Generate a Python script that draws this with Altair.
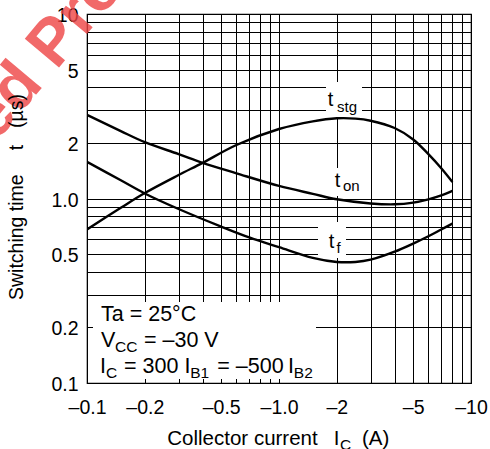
import altair as alt
import pandas as pd

# ---------------- data ----------------
IC_STG = [0.1, 0.15, 0.2, 0.3, 0.4, 0.6, 1.0, 1.5, 2.0, 2.5, 3.0, 4.0, 5.0, 6.0, 7.0, 8.0]
T_STG = [0.68, 0.89, 1.07, 1.34, 1.56, 1.95, 2.38, 2.62, 2.72, 2.71, 2.64, 2.41, 2.09, 1.74, 1.46, 1.23]

IC_ON = [0.1, 0.15, 0.2, 0.3, 0.4, 0.6, 1.0, 1.5, 2.0, 3.0, 4.0, 5.0, 6.0, 7.0, 8.0]
T_ON = [2.84, 2.32, 2.02, 1.74, 1.56, 1.37, 1.17, 1.06, 0.99, 0.94, 0.93, 0.95, 0.99, 1.04, 1.10]

IC_F = [0.1, 0.15, 0.2, 0.3, 0.5, 0.7, 1.0, 1.5, 2.0, 2.5, 3.0, 4.0, 5.0, 6.0, 7.0, 8.0]
T_F = [1.58, 1.255, 1.065, 0.877, 0.704, 0.615, 0.545, 0.477, 0.453, 0.453, 0.466, 0.515, 0.57, 0.624, 0.679, 0.731]

GRID = [0.1, 0.2, 0.3, 0.4, 0.5, 0.6, 0.7, 0.8, 0.9,
        1, 2, 3, 4, 5, 6, 7, 8, 9, 10]

X_LABEL_VALUES = [0.1, 0.2, 0.5, 1, 2, 5, 10]
X_LABEL_TEXT = ["–0.1", "–0.2", "–0.5", "–1.0", "–2", "–5", "–10"]
Y_LABEL_VALUES = [0.1, 0.2, 0.5, 1, 2, 5, 10]
Y_LABEL_TEXT = ["0.1", "0.2", "0.5", "1.0", "2", "5", "10"]

rows = []
for name, xs, ys in [("t_stg", IC_STG, T_STG), ("t_on", IC_ON, T_ON), ("t_f", IC_F, T_F)]:
    for a, b in zip(xs, ys):
        rows.append({"series": name, "ic": a, "t": b})
curves = pd.DataFrame(rows)


def label_expr(values, texts):
    parts = [f"datum.value == {v} ? '{t}'" for v, t in zip(values, texts)]
    return " : ".join(parts) + " : ''"


FONT = "Liberation Sans"

x_enc = alt.X(
    "ic:Q",
    scale=alt.Scale(type="log", domain=[0.1, 10], nice=False),
    axis=alt.Axis(values=GRID, labelExpr=label_expr(X_LABEL_VALUES, X_LABEL_TEXT),
                  grid=True, gridColor="black", gridWidth=1, gridOpacity=1,
                  ticks=False, domain=False, title=None, labelOverlap=False,
                  labelFlush=False, labelFont=FONT, labelFontSize=19.5,
                  labelColor="black", labelPadding=15),
)
y_enc = alt.Y(
    "t:Q",
    scale=alt.Scale(type="log", domain=[0.1, 10], nice=False),
    axis=alt.Axis(values=GRID, labelExpr=label_expr(Y_LABEL_VALUES, Y_LABEL_TEXT),
                  grid=True, gridColor="black", gridWidth=1, gridOpacity=1,
                  ticks=False, domain=False, title=None, labelOverlap=False,
                  labelFlush=False, labelFont=FONT, labelFontSize=19.5,
                  labelColor="black", labelPadding=9, labelOffset=1.5),
)

lines = alt.Chart(curves).mark_line(
    color="black", strokeWidth=2.4, interpolate="catmull-rom", clip=True
).encode(x=x_enc, y=y_enc, detail="series:N")

# white boxes behind annotations (pixel positions in the plot area)
boxes = pd.DataFrame({
    "x0": [6, 239, 243, 231],
    "x1": [229, 275, 273, 259],
    "y0": [288, 68, 154, 208],
    "y1": [365, 103, 182, 244],
})
box_layer = alt.Chart(boxes).mark_rect(fill="white").encode(
    x=alt.X("x0:Q", scale=None), x2="x1:Q",
    y=alt.Y("y0:Q", scale=None), y2="y1:Q",
)

# text pieces (main text + subscripts)
texts = pd.DataFrame([
    {"text": "t", "px": 240.8, "py": 92, "fs": 20},
    {"text": "stg", "px": 250, "py": 97.5, "fs": 15},
    {"text": "t", "px": 247.7, "py": 172.7, "fs": 20},
    {"text": "on", "px": 256, "py": 177, "fs": 15},
    {"text": "t", "px": 241.7, "py": 234.3, "fs": 20},
    {"text": "f", "px": 249.5, "py": 239, "fs": 15},
    {"text": "Ta = 25°C", "px": 14, "py": 306.7, "fs": 21.5},
    {"text": "V", "px": 14, "py": 332.7, "fs": 21.5},
    {"text": "CC", "px": 28, "py": 337.5, "fs": 15.5},
    {"text": "= –30 V", "px": 57, "py": 332.7, "fs": 21.5},
    {"text": "I", "px": 13, "py": 358.7, "fs": 21.5},
    {"text": "C", "px": 19, "py": 363.5, "fs": 15.5},
    {"text": "= 300", "px": 37, "py": 358.7, "fs": 21.5},
    {"text": "I", "px": 97.5, "py": 358.7, "fs": 21.5},
    {"text": "B1", "px": 103.2, "py": 363.5, "fs": 15.5},
    {"text": "= –500", "px": 130.3, "py": 358.7, "fs": 21.5},
    {"text": "I", "px": 201, "py": 358.7, "fs": 21.5},
    {"text": "B2", "px": 206.8, "py": 363.5, "fs": 15.5},
    {"text": "Collector current", "px": 80.3, "py": 431, "fs": 20.5},
    {"text": "I", "px": 246.8, "py": 431, "fs": 20.5},
    {"text": "C", "px": 253, "py": 436, "fs": 15.5},
    {"text": "(A)", "px": 275, "py": 431, "fs": 20.5},
])
text_layer = alt.Chart(texts).mark_text(
    align="left", baseline="alphabetic", font=FONT, color="black"
).encode(
    x=alt.X("px:Q", scale=None), y=alt.Y("py:Q", scale=None),
    text="text:N", size=alt.Size("fs:Q", scale=None),
)

ytitle = pd.DataFrame([
    {"text": "Switching time", "px": -63.7, "py": 286},
    {"text": "t", "px": -63.7, "py": 136.3},
    {"text": "(µs)", "px": -63.7, "py": 114},
])
ytitle_layer = alt.Chart(ytitle).mark_text(
    align="left", baseline="alphabetic", font=FONT, color="black",
    fontSize=19.5, angle=270
).encode(
    x=alt.X("px:Q", scale=None), y=alt.Y("py:Q", scale=None), text="text:N",
)

watermark = alt.Chart(pd.DataFrame({"w": ["Discontinued Product"]})).mark_text(
    align="left", baseline="alphabetic", font=FONT, fontWeight="bold",
    fontSize=65, angle=310, color="#ee4444", opacity=0.8
).encode(x=alt.value(-307), y=alt.value(386), text="w:N")

chart = alt.layer(
    watermark, box_layer, lines, text_layer, ytitle_layer
).properties(
    width=384, height=369,
    autosize=alt.AutoSizeParams(type="none"),
    padding={"left": 87, "top": 14, "right": 19, "bottom": 66},
).configure_view(stroke="black", strokeWidth=1.2)

chart.save("out.html", embed_options={"renderer": "svg", "actions": False})
